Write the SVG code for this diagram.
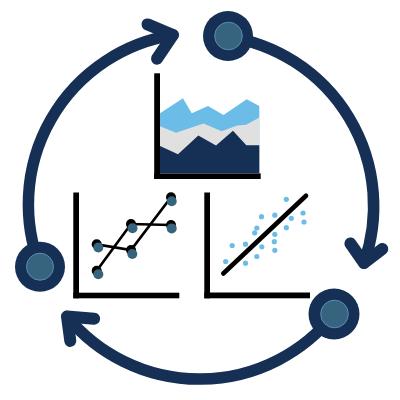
<svg xmlns="http://www.w3.org/2000/svg" width="400" height="400" viewBox="0 0 400 400">
  <defs>
    <style>
      .ring { fill: none; stroke: #152f55; stroke-width: 11.5; stroke-linecap: round; }
      .chev { fill: none; stroke: #152f55; stroke-width: 12; stroke-linecap: round; stroke-linejoin: round; }
      .nodeOuter { fill: #152f55; }
      .nodeInner { fill: #36647f; stroke: #5b8db5; stroke-width: 1; }
      .axis { fill: #000000; }
      .blk { fill: #000000; }
      .teal { fill: #36647f; }
      .sc { fill: #6bbde8; }
    </style>
  </defs>
  <rect width="400" height="400" fill="#ffffff"/>

  <g id="connectors">
    <path class="ring" d="M 40.2 266.9 A 171.5 171.5 0 0 1 173 35"/>
    <polyline class="chev" points="147.5,24.4 173,35 157,58.7"/>
    <path class="ring" d="M 228 36.7 A 171.5 171.5 0 0 1 364 263"/>
    <polyline class="chev" points="350.4,243.5 364,263 382.3,249"/>
    <path class="ring" d="M 334 314 A 171.5 171.5 0 0 1 67 316.5"/>
    <polyline class="chev" points="94.1,318.7 67,316.5 70.3,340.9"/>
  </g>

  <g id="node-top">
    <circle class="nodeOuter" cx="228" cy="36" r="25"/>
    <circle class="nodeInner" cx="228.5" cy="36" r="13.8"/>
  </g>
  <g id="node-left">
    <circle class="nodeOuter" cx="40" cy="266.7" r="25"/>
    <circle class="nodeInner" cx="40" cy="266.7" r="13.5"/>
  </g>
  <g id="node-right">
    <circle class="nodeOuter" cx="334" cy="314" r="25.5"/>
    <circle class="nodeInner" cx="334.5" cy="314" r="13.8"/>
  </g>

  <g id="area-chart">
    <polygon fill="#6bbde8" points="160,113.3 183,98.3 191.7,113.3 208,106 223.5,115 246.7,99.3 259.3,106 259.3,173 160,173"/>
    <polygon fill="#e0e0e0" points="160,126.3 176,132.7 203.5,123.5 221.7,131.3 237,125.5 246.3,124.7 259.3,117.5 259.3,173 160,173"/>
    <polygon fill="#152f55" points="160,146 178,154.2 198.3,135.5 216,145.4 233,130.7 246.3,145.2 259.3,145.2 259.3,173 160,173"/>
    <rect class="axis" x="154.2" y="73.3" width="5.8" height="105.7"/>
    <rect class="axis" x="154.2" y="173.3" width="106.5" height="5.7"/>
  </g>

  <g id="line-chart">
    <rect class="axis" x="73.3" y="192.5" width="5.7" height="105.8"/>
    <rect class="axis" x="73.3" y="292.7" width="106" height="5.6"/>
    <polyline fill="none" stroke="#000" stroke-width="2.7" points="96.7,270.7 131,224 171,225"/>
    <polyline fill="none" stroke="#000" stroke-width="2.7" points="96.7,244.3 131,250 171,197.3"/>
    <circle class="blk" cx="96.7" cy="244.3" r="5"/>
    <circle class="teal" cx="98.3" cy="247.5" r="5"/>
    <circle class="blk" cx="131" cy="224" r="5"/>
    <circle class="teal" cx="132.5" cy="228.3" r="5"/>
    <circle class="blk" cx="171" cy="197.3" r="5"/>
    <circle class="teal" cx="171.7" cy="201.2" r="5"/>
    <circle class="blk" cx="171" cy="225" r="5"/>
    <circle class="teal" cx="171.7" cy="228.4" r="5"/>
    <circle class="blk" cx="131" cy="250" r="5"/>
    <circle class="teal" cx="132.3" cy="254" r="5"/>
    <circle class="blk" cx="96.7" cy="270.7" r="5"/>
    <circle class="teal" cx="98.3" cy="274.3" r="5"/>
  </g>

  <g id="scatter-chart">
    <rect class="axis" x="204.3" y="192.5" width="5.7" height="105.8"/>
    <rect class="axis" x="204.3" y="292.5" width="105.7" height="5.8"/>
    <g>
      <circle class="sc" cx="225.7" cy="261.5" r="2.6"/>
      <circle class="sc" cx="232.2" cy="245.5" r="2.6"/>
      <circle class="sc" cx="245.5" cy="244.2" r="2.6"/>
      <circle class="sc" cx="245.5" cy="263.2" r="2.6"/>
      <circle class="sc" cx="256.8" cy="256.5" r="2.6"/>
      <circle class="sc" cx="261.8" cy="246.8" r="2.6"/>
      <circle class="sc" cx="254.7" cy="232.8" r="2.6"/>
      <circle class="sc" cx="256.8" cy="228" r="2.6"/>
      <circle class="sc" cx="261.5" cy="216.7" r="2.6"/>
      <circle class="sc" cx="274.8" cy="215.2" r="2.6"/>
      <circle class="sc" cx="274.8" cy="234.3" r="2.6"/>
      <circle class="sc" cx="274.3" cy="241.7" r="2.6"/>
      <circle class="sc" cx="274.8" cy="250.3" r="2.6"/>
      <circle class="sc" cx="286.3" cy="199.3" r="2.6"/>
      <circle class="sc" cx="291.3" cy="218.3" r="2.6"/>
      <circle class="sc" cx="286.3" cy="227.7" r="2.6"/>
      <circle class="sc" cx="303" cy="213" r="2.6"/>
      <circle class="sc" cx="304" cy="222" r="2.6"/>
    </g>
    <line x1="223.3" y1="273.5" x2="306" y2="195.7" stroke="#000" stroke-width="4.6" stroke-linecap="round"/>
  </g>
</svg>
